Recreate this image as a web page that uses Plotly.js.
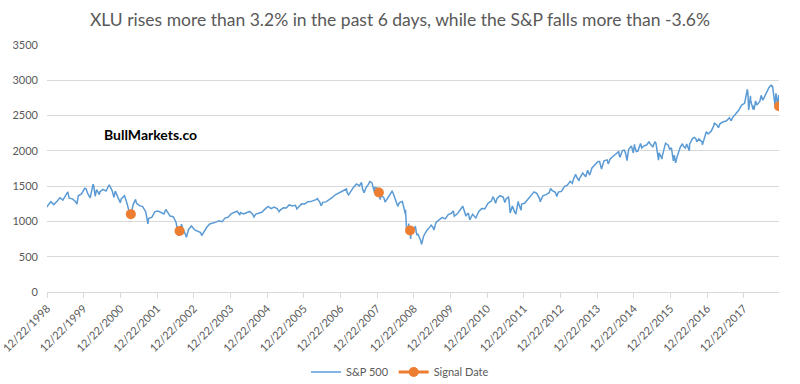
<!DOCTYPE html>
<html>
<head>
<meta charset="utf-8">
<script src="https://cdn.plot.ly/plotly-3.0.1.min.js"></script>
<style>html,body{margin:0;padding:0;background:#fff;}#chart{width:800px;height:384px;}</style>
</head>
<body>
<div id="chart"></div>
<script>
// S&P 500 closes (monthly closes plus notable intra-month turning points)
const dates = [
"1998-12-22","1998-12-31",
"1999-01-29","1999-02-26","1999-03-31","1999-04-30","1999-05-28","1999-06-30","1999-07-16","1999-07-30","1999-08-31","1999-09-30","1999-10-15","1999-10-29","1999-11-30","1999-12-31",
"2000-01-14","2000-01-31","2000-02-25","2000-02-29","2000-03-24","2000-03-31","2000-04-14","2000-04-28","2000-05-26","2000-05-31","2000-06-30","2000-07-31","2000-08-31","2000-09-01","2000-09-29","2000-10-18","2000-10-31","2000-11-30","2000-12-20","2000-12-29",
"2001-01-31","2001-02-28","2001-03-22","2001-03-30","2001-04-04","2001-04-30","2001-05-21","2001-05-31","2001-06-29","2001-07-31","2001-08-31","2001-09-21","2001-09-28","2001-10-31","2001-11-30","2001-12-31",
"2002-01-31","2002-02-28","2002-03-19","2002-03-28","2002-04-30","2002-05-31","2002-06-28","2002-07-23","2002-07-31","2002-08-02","2002-08-22","2002-08-30","2002-09-30","2002-10-09","2002-10-31","2002-11-29","2002-12-31",
"2003-01-31","2003-02-28","2003-03-11","2003-03-31","2003-04-30","2003-05-30","2003-06-30","2003-07-31","2003-08-29","2003-09-30","2003-10-31","2003-11-28","2003-12-31",
"2004-01-30","2004-02-27","2004-03-24","2004-03-31","2004-04-30","2004-05-28","2004-06-30","2004-07-30","2004-08-12","2004-08-31","2004-09-30","2004-10-29","2004-11-30","2004-12-31",
"2005-01-31","2005-02-28","2005-03-31","2005-04-20","2005-04-29","2005-05-31","2005-06-30","2005-07-29","2005-08-31","2005-09-30","2005-10-13","2005-10-31","2005-11-30","2005-12-30",
"2006-01-31","2006-02-28","2006-03-31","2006-04-28","2006-05-05","2006-05-31","2006-06-13","2006-06-30","2006-07-31","2006-08-31","2006-09-29","2006-10-31","2006-11-30","2006-12-29",
"2007-01-31","2007-02-20","2007-02-27","2007-02-28","2007-03-13","2007-03-30","2007-04-30","2007-05-31","2007-06-29","2007-07-19","2007-07-31","2007-08-15","2007-08-31","2007-09-28","2007-10-09","2007-10-31","2007-11-26","2007-11-30","2007-12-31",
"2008-01-09","2008-01-22","2008-01-31","2008-02-29","2008-03-10","2008-03-31","2008-04-30","2008-05-19","2008-05-30","2008-06-30","2008-07-15","2008-07-31","2008-08-29","2008-09-29","2008-09-30","2008-10-10","2008-10-27","2008-10-31","2008-11-14","2008-11-20","2008-11-28","2008-12-31",
"2009-01-06","2009-01-20","2009-01-30","2009-02-27","2009-03-09","2009-03-31","2009-04-30","2009-05-29","2009-06-12","2009-06-30","2009-07-10","2009-07-31","2009-08-31","2009-09-30","2009-10-30","2009-11-30","2009-12-31",
"2010-01-19","2010-01-29","2010-02-26","2010-03-31","2010-04-23","2010-04-30","2010-05-25","2010-05-28","2010-06-18","2010-07-02","2010-07-30","2010-08-27","2010-08-31","2010-09-30","2010-10-29","2010-11-30","2010-12-31",
"2011-01-31","2011-02-18","2011-02-28","2011-03-16","2011-03-31","2011-04-29","2011-05-31","2011-06-16","2011-06-30","2011-07-22","2011-07-29","2011-08-08","2011-08-31","2011-09-22","2011-09-30","2011-10-03","2011-10-27","2011-10-31","2011-11-25","2011-11-30","2011-12-30",
"2012-01-31","2012-02-29","2012-03-30","2012-04-02","2012-04-30","2012-05-31","2012-06-01","2012-06-29","2012-07-31","2012-08-31","2012-09-14","2012-09-28","2012-10-31","2012-11-15","2012-11-30","2012-12-31",
"2013-01-31","2013-02-28","2013-03-28","2013-04-18","2013-04-30","2013-05-21","2013-05-31","2013-06-24","2013-06-28","2013-07-31","2013-08-30","2013-09-18","2013-09-30","2013-10-08","2013-10-31","2013-11-29","2013-12-31",
"2014-01-15","2014-02-03","2014-02-28","2014-03-31","2014-04-11","2014-04-30","2014-05-30","2014-06-30","2014-07-24","2014-07-31","2014-08-07","2014-08-29","2014-09-18","2014-09-30","2014-10-15","2014-10-31","2014-11-28","2014-12-16","2014-12-29","2014-12-31",
"2015-01-15","2015-01-30","2015-02-27","2015-03-11","2015-03-31","2015-04-30","2015-05-21","2015-05-29","2015-06-29","2015-06-30","2015-07-20","2015-07-31","2015-08-25","2015-08-31","2015-09-29","2015-09-30","2015-10-30","2015-11-03","2015-11-30","2015-12-14","2015-12-31",
"2016-01-20","2016-01-29","2016-02-11","2016-02-29","2016-03-31","2016-04-20","2016-04-29","2016-05-19","2016-05-31","2016-06-27","2016-06-30","2016-07-29","2016-08-15","2016-08-31","2016-09-09","2016-09-30","2016-10-31","2016-11-04","2016-11-30","2016-12-13","2016-12-30",
"2017-01-31","2017-02-28","2017-03-01","2017-03-31","2017-04-13","2017-04-28","2017-05-31","2017-06-30","2017-07-31","2017-08-18","2017-08-31","2017-09-29","2017-10-31","2017-11-30","2017-12-29",
"2018-01-26","2018-01-31","2018-02-08","2018-02-26","2018-02-28","2018-03-23","2018-03-29","2018-04-02","2018-04-18","2018-04-30","2018-05-31","2018-06-12","2018-06-29","2018-07-31","2018-08-31","2018-09-20","2018-09-28","2018-10-03","2018-10-29","2018-10-31","2018-11-07","2018-11-23","2018-11-30","2018-12-03","2018-12-07"
];
const spx = [
1202,1229,
1280,1238,1286,1335,1302,1373,1418,1329,1320,1283,1247,1363,1389,1469,
1465,1394,1333,1366,1527,1499,1357,1452,1378,1421,1455,1431,1518,1520,1437,1342,1429,1315,1264,1320,
1366,1240,1117,1160,1103,1249,1312,1256,1224,1211,1134,966,1041,1060,1139,1148,
1130,1107,1170,1147,1076,1067,990,797,912,864,962,916,815,777,886,936,880,
856,841,800,848,917,964,975,990,1008,996,1051,1058,1112,
1131,1145,1091,1126,1107,1121,1141,1102,1064,1104,1115,1130,1174,1212,
1181,1204,1181,1138,1157,1192,1191,1234,1220,1229,1177,1207,1249,1248,
1280,1281,1295,1311,1325,1270,1223,1270,1277,1304,1336,1378,1401,1418,
1438,1460,1400,1407,1377,1421,1482,1531,1503,1553,1455,1406,1474,1527,1565,1549,1408,1481,1468,
1409,1310,1379,1331,1273,1323,1386,1427,1400,1280,1214,1267,1283,1106,1166,899,848,969,873,752,896,903,
935,805,826,735,677,798,873,919,946,919,879,987,1021,1057,1036,1096,1115,
1150,1074,1104,1169,1217,1187,1074,1089,1117,1022,1102,1065,1049,1141,1183,1181,1258,
1286,1343,1327,1257,1326,1364,1345,1268,1321,1345,1292,1119,1219,1130,1131,1099,1285,1253,1159,1247,1258,
1312,1366,1408,1419,1398,1310,1278,1362,1379,1407,1466,1441,1412,1353,1416,1426,
1498,1515,1569,1541,1598,1669,1631,1573,1606,1686,1633,1725,1682,1656,1757,1806,1848,
1848,1742,1859,1872,1815,1884,1924,1960,1988,1931,1910,2003,2011,1972,1862,2018,2068,1973,2091,2059,
1993,1995,2105,2040,2068,2086,2131,2107,2058,2063,2129,2104,1868,1972,1884,1920,2079,2109,2080,2022,2044,
1859,1940,1829,1932,2060,2102,2065,2040,2097,2001,2099,2174,2190,2171,2128,2168,2126,2085,2199,2271,2239,
2279,2364,2396,2363,2329,2384,2412,2423,2470,2426,2472,2519,2575,2648,2674,
2873,2824,2581,2780,2714,2588,2641,2582,2708,2648,2705,2787,2718,2816,2902,2931,2914,2926,2641,2712,2814,2633,2760,2790,2633
];
// Signal dates
const signalDates = ["2001-04-04","2002-08-02","2008-01-09","2008-11-14","2018-12-07"];
const signalValues = [1103,864,1409,873,2633];
// Axis ticks
const tickDates = ["1998-12-22","1999-12-22","2000-12-22","2001-12-22","2002-12-22","2003-12-22","2004-12-22","2005-12-22","2006-12-22","2007-12-22","2008-12-22","2009-12-22","2010-12-22","2011-12-22","2012-12-22","2013-12-22","2014-12-22","2015-12-22","2016-12-22","2017-12-22"];
const tickLabels = ["12/22/1998","12/22/1999","12/22/2000","12/22/2001","12/22/2002","12/22/2003","12/22/2004","12/22/2005","12/22/2006","12/22/2007","12/22/2008","12/22/2009","12/22/2010","12/22/2011","12/22/2012","12/22/2013","12/22/2014","12/22/2015","12/22/2016","12/22/2017"];
const yTicks = [0,500,1000,1500,2000,2500,3000,3500];

// Signal series on the same date axis, blank (gap) elsewhere, like the spreadsheet column
const signalCol = dates.map(d => { const i = signalDates.indexOf(d); return i >= 0 ? signalValues[i] : null; });

const FONT = "Lato, 'Open Sans', sans-serif";
const GREY = "#595959";

const traces = [
  {type:"scatter", mode:"lines", name:"S&P 500", x:dates, y:spx,
   line:{color:"#5B9BD5", width:1.5}},
  {type:"scatter", mode:"lines+markers", name:"Signal Date", x:dates, y:signalCol, connectgaps:false,
   line:{color:"#ED7D31", width:3}, marker:{color:"#ED7D31", size:10}}
];

const layout = {
  width:800, height:384,
  margin:{l:47, r:21, t:45, b:92},
  paper_bgcolor:"#fff", plot_bgcolor:"#fff",
  font:{family:FONT, color:GREY, size:11},
  title:{text:"XLU rises more than 3.2% in the past 6 days, while the S&P falls more than -3.6%",
         font:{family:FONT, size:17.5, color:GREY}, x:0.5, xanchor:"center", y:0.948, yanchor:"middle", yref:"container"},
  xaxis:{type:"date", range:["1998-12-21","2018-12-07"], tickmode:"array", tickvals:tickDates, ticktext:tickLabels,
         tickangle:-45, ticks:"outside", ticklen:5, tickcolor:"#d9d9d9", showgrid:false,
         showline:true, linecolor:"#d9d9d9", linewidth:1, zeroline:false, automargin:false,
         tickfont:{family:FONT, size:11, color:GREY}},
  yaxis:{range:[0,3500], tickmode:"array", tickvals:yTicks, showgrid:true, gridcolor:"#d9d9d9", gridwidth:1,
         zeroline:false, showline:false, ticks:"", ticklabelstandoff:8, automargin:false,
         tickfont:{family:FONT, size:11, color:GREY}},
  showlegend:true,
  legend:{orientation:"h", x:0.5, xanchor:"center", xref:"container", y:(384-372)/384, yanchor:"middle", yref:"container",
          font:{family:FONT, size:11, color:GREY}, itemwidth:30, tracegroupgap:0},
  annotations:[{text:"<b>BullMarkets.co</b>", xref:"paper", yref:"paper", x:(150-47)/732, y:(292.3-135)/247.3,
                xanchor:"center", yanchor:"middle", showarrow:false, font:{family:FONT, size:14, color:"#000"}}]
};

Plotly.newPlot("chart", traces, layout, {displayModeBar:false, staticPlot:true});
</script>
</body>
</html>
